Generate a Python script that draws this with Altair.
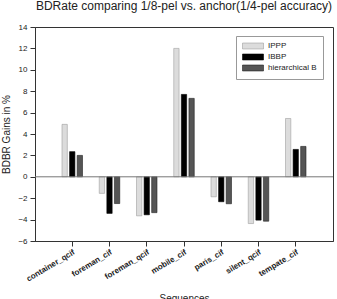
import altair as alt
import pandas as pd

# BD-rate gains (%) of 1/8-pel interpolation against the 1/4-pel anchor
sequences = ["container_qcif", "foreman_cif", "foreman_qcif", "mobile_cif",
             "paris_cif", "silent_qcif", "tempate_cif"]
schemes = ["IPPP", "IBBP", "hierarchical B"]
ippp = [4.9, -1.55, -3.65, 12.0, -1.87, -4.37, 5.45]
ibbp = [2.35, -3.42, -3.55, 7.7, -2.33, -4.05, 2.56]
hier_b = [2.0, -2.5, -3.35, 7.33, -2.52, -4.15, 2.84]
y_ticks = list(range(-6, 15, 2))

rows = []
for name, values in zip(schemes, [ippp, ibbp, hier_b]):
    for seq, v in zip(sequences, values):
        rows.append({"seq": seq, "scheme": name, "gain": v})
df = pd.DataFrame(rows)

FONT = "Liberation Sans"
inner = 0.45
# wide legend swatch: small nominal size keeps rows tight, path extends to the right
legend_shape = "M-1,-0.85L5,-0.85L5,0.85L-1,0.85Z"

y_scale = alt.Scale(domain=[-6, 14], nice=False)
y_axis = alt.Axis(title="BDBR Gains in %", values=y_ticks, grid=False,
                  labelOverlap=False, labelFontSize=8, labelColor="#222",
                  tickSize=5, tickColor="#333", domainColor="#333",
                  labelPadding=3, titleFontSize=10, titleFontWeight="normal",
                  titleColor="#222", titlePadding=6)

bars = alt.Chart(df).mark_bar(strokeWidth=0.6).encode(
    x=alt.X("seq:N", sort=sequences,
            scale=alt.Scale(paddingInner=inner, paddingOuter=(1 + inner) / 2),
            axis=alt.Axis(title="Sequences", labelAngle=-31, labelAlign="right",
                          labelBaseline="top", labelFontSize=8, labelFontWeight="bold",
                          labelColor="#222", tickSize=5, tickColor="#333",
                          domainColor="#333", labelPadding=2,
                          titleFontSize=10, titleFontWeight="normal",
                          titleColor="#222", titleBaseline="top", titleY=52)),
    xOffset=alt.XOffset("scheme:N", sort=schemes,
                        scale=alt.Scale(paddingInner=0.3)),
    y=alt.Y("gain:Q", scale=y_scale, axis=y_axis),
    fill=alt.Fill("scheme:N", sort=schemes,
                  scale=alt.Scale(domain=schemes, range=["#dcdcdc", "#000000", "#555555"]),
                  legend=alt.Legend(title=None, orient="none", legendX=201, legendY=9,
                                    symbolType=legend_shape, symbolSize=49,
                                    labelFontSize=8, labelColor="#222",
                                    strokeColor="#999", fillColor="white",
                                    padding=6, rowPadding=1, labelOffset=18,
                                    symbolStrokeWidth=0.6)),
    stroke=alt.Stroke("scheme:N", sort=schemes,
                      scale=alt.Scale(domain=schemes, range=["#a0a0a0", "#000000", "#222222"]),
                      legend=None),
)

# horizontal reference line at zero gain
zero = alt.Chart(pd.DataFrame({"gain": [0]})).mark_rule(color="#777", strokeWidth=1).encode(
    y=alt.Y("gain:Q", scale=y_scale, axis=y_axis)
)

chart = alt.layer(bars, zero).properties(
    width=298, height=214,
    title=alt.TitleParams("BDRate comparing 1/8-pel vs. anchor(1/4-pel accuracy)",
                          fontSize=12, fontWeight="normal", font=FONT,
                          color="#222", anchor="middle", offset=10),
    autosize=alt.AutoSizeParams(type="none"),
    padding={"left": 35, "top": 27, "right": 4, "bottom": 58},
).configure(font=FONT).configure_view(stroke="#333", strokeWidth=1)

chart.save("out.html", embed_options={"renderer": "svg", "actions": False})
